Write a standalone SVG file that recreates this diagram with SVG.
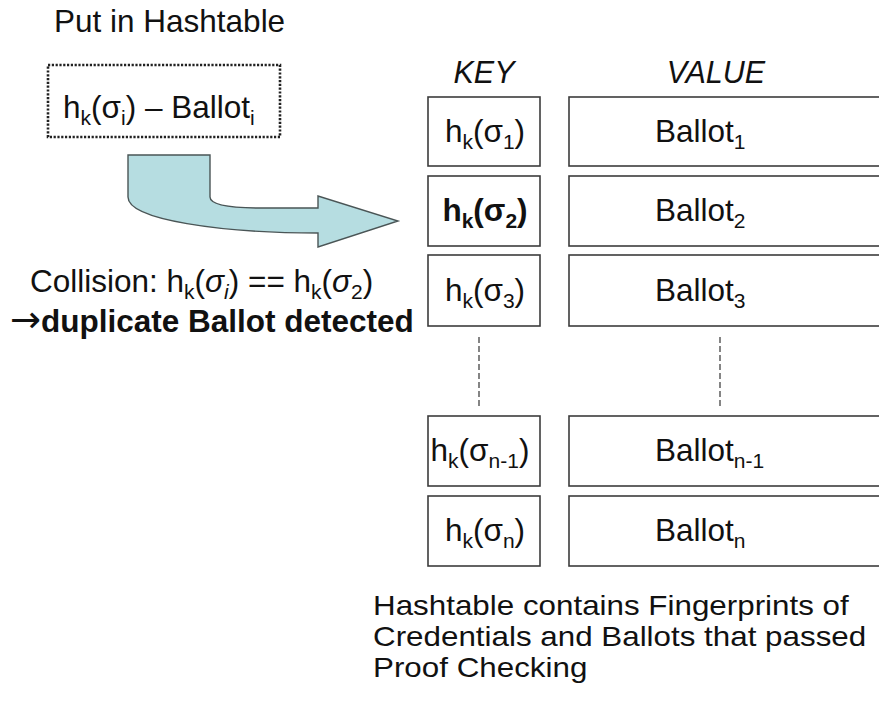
<svg xmlns="http://www.w3.org/2000/svg" width="879" height="708" viewBox="0 0 879 708">
  <defs>
    <style>
      text { font-family: "Liberation Sans", Arial, sans-serif; fill: #111; }
      .t30 { font-size: 31.5px; }
      .cap { font-size: 28px; }
      .lbl { font-size: 31.5px; }
      .sub { font-size: 21px; }
      .hdr { font-size: 30.5px; font-style: italic; }
      .arw { font-family: "DejaVu Sans", sans-serif; font-weight: normal; font-size: 37px; }
      .cell { fill: #fff; stroke: #3c3c3c; stroke-width: 1.6; }
      .gap { stroke: #444; stroke-width: 1.3; stroke-dasharray: 6 3; fill: none; }
      .entry { fill: #fff; stroke: #222; stroke-width: 2.6; stroke-dasharray: 2.2 1.6; }
      .bend { fill: #b6dde1; stroke: #4a5556; stroke-width: 1.4; stroke-linejoin: miter; }
    </style>
  </defs>
  <rect width="879" height="708" fill="#fff"/>

  <!-- caption for the incoming entry -->
  <g id="put-caption">
    <text class="t30" x="54" y="32">Put in Hashtable</text>
  </g>

  <!-- the entry being inserted -->
  <g id="new-entry">
    <rect class="entry" x="48" y="65" width="232" height="72"/>
    <text class="lbl" x="63" y="118" font-size="32.5">h<tspan class="sub" dy="7">k</tspan><tspan dy="-7">(σ</tspan><tspan class="sub" dy="7">i</tspan><tspan dy="-7">) – Ballot</tspan><tspan class="sub" dy="7">i</tspan></text>
  </g>

  <!-- connectors -->
  <g id="connectors">
    <path class="bend" d="M128,155 L210,155 L210,197 C210,204 226,208 262,208 L318,208 L318,196 L398,221 L318,247 L318,233 C222,233 128,220 128,197 Z"/>
    <line class="gap" x1="479" y1="337" x2="479" y2="407"/>
    <line class="gap" x1="720" y1="337" x2="720" y2="407"/>
  </g>

  <!-- collision notes -->
  <g id="collision-note">
    <text class="lbl" x="30" y="292">Collision: h<tspan class="sub" dy="7">k</tspan><tspan dy="-7">(</tspan><tspan font-style="italic">σ</tspan><tspan class="sub" font-style="italic" dy="7">i</tspan><tspan dy="-7">) == h</tspan><tspan class="sub" dy="7">k</tspan><tspan dy="-7">(</tspan><tspan font-style="italic">σ</tspan><tspan class="sub" dy="7">2</tspan><tspan dy="-7">)</tspan></text>
  </g>
  <g id="duplicate-note">
    <text class="lbl" x="10" y="332" font-weight="bold"><tspan class="arw">→</tspan>duplicate Ballot detected</text>
  </g>

  <!-- column headers -->
  <g id="headers">
    <text class="hdr" x="484" y="83" text-anchor="middle">KEY</text>
    <text class="hdr" x="716" y="83" text-anchor="middle">VALUE</text>
  </g>

  <!-- table rows -->
  <g id="row-1">
    <rect class="cell" x="428" y="97" width="112" height="69"/>
    <rect class="cell" x="569" y="97" width="320" height="69"/>
    <text class="lbl" x="485" y="142" text-anchor="middle">h<tspan class="sub" dy="7">k</tspan><tspan dy="-7">(σ</tspan><tspan class="sub" dy="7">1</tspan><tspan dy="-7">)</tspan></text>
    <text class="lbl" x="655" y="142">Ballot<tspan class="sub" dy="7">1</tspan></text>
  </g>
  <g id="row-2">
    <rect class="cell" x="428" y="176" width="112" height="70"/>
    <rect class="cell" x="569" y="176" width="320" height="70"/>
    <text class="lbl" x="485" y="221" text-anchor="middle" font-weight="bold">h<tspan class="sub" dy="7">k</tspan><tspan dy="-7">(σ</tspan><tspan class="sub" dy="7">2</tspan><tspan dy="-7">)</tspan></text>
    <text class="lbl" x="655" y="221">Ballot<tspan class="sub" dy="7">2</tspan></text>
  </g>
  <g id="row-3">
    <rect class="cell" x="428" y="255" width="112" height="71"/>
    <rect class="cell" x="569" y="255" width="320" height="71"/>
    <text class="lbl" x="485" y="301" text-anchor="middle">h<tspan class="sub" dy="7">k</tspan><tspan dy="-7">(σ</tspan><tspan class="sub" dy="7">3</tspan><tspan dy="-7">)</tspan></text>
    <text class="lbl" x="655" y="301">Ballot<tspan class="sub" dy="7">3</tspan></text>
  </g>
  <g id="row-n-1">
    <rect class="cell" x="428" y="416" width="112" height="70"/>
    <rect class="cell" x="569" y="416" width="320" height="70"/>
    <text class="lbl" x="480" y="461" text-anchor="middle">h<tspan class="sub" dy="7">k</tspan><tspan dy="-7">(σ</tspan><tspan class="sub" dy="7">n-1</tspan><tspan dy="-7">)</tspan></text>
    <text class="lbl" x="655" y="461">Ballot<tspan class="sub" dy="7">n-1</tspan></text>
  </g>
  <g id="row-n">
    <rect class="cell" x="428" y="496" width="112" height="70"/>
    <rect class="cell" x="569" y="496" width="320" height="70"/>
    <text class="lbl" x="485" y="541" text-anchor="middle">h<tspan class="sub" dy="7">k</tspan><tspan dy="-7">(σ</tspan><tspan class="sub" dy="7">n</tspan><tspan dy="-7">)</tspan></text>
    <text class="lbl" x="655" y="541">Ballot<tspan class="sub" dy="7">n</tspan></text>
  </g>

  <!-- table description: slightly widened lettering -->
  <g id="table-caption" transform="translate(373,0) scale(1.12,1)">
    <text class="cap" x="0" y="615">Hashtable contains Fingerprints of</text>
    <text class="cap" x="0" y="646">Credentials and Ballots that passed</text>
    <text class="cap" x="0" y="677">Proof Checking</text>
  </g>
</svg>
